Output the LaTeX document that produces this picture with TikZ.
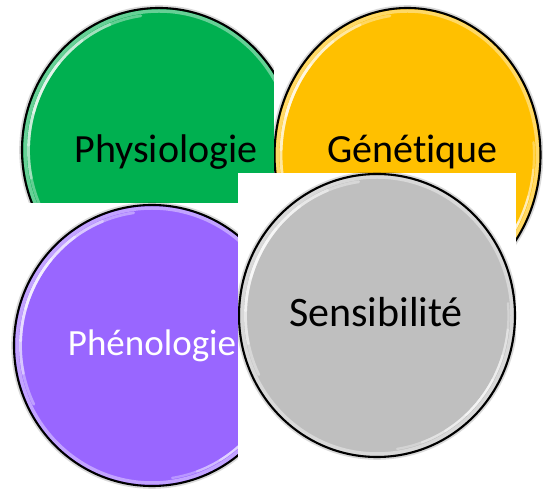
\documentclass[tikz,border=0pt]{standalone}
\usepackage{fontspec}
\setmainfont{Carlito}[Ligatures=NoCommon]
\usetikzlibrary{calc}
\definecolor{ballgreen}{HTML}{00B050}
\definecolor{ballyellow}{HTML}{FFC000}
\definecolor{ballpurple}{HTML}{9966FF}
\definecolor{ballgray}{HTML}{BFBFBF}
\tikzset{
  balltext/.style={font=\fontsize{40}{40}\selectfont, anchor=base, inner sep=0pt},
  rimline/.style={black, line width=2.1pt},
  glint/.style={white, line cap=round},
}
% #1 cx, #2 cy, #3 rx, #4 ry, #5 colour
\newcommand\glossball[5]{%
  \fill[black, opacity=0.15] (#1,#2) ellipse[x radius=#3+2.8, y radius=#4+2.8];
  \fill[#5] (#1,#2) ellipse[x radius=#3, y radius=#4];
  \draw[#5!60!white, line width=3.5pt] (#1,#2) ellipse[x radius=#3-3, y radius=#4-3];
  \foreach \h/\o in {54/0.38,40/0.4,26/0.42,12/0.45} {
    \draw[glint, opacity=\o, line width=2.8pt]
      ($(#1,#2)+(152-\h:#3-6.5 and #4-6.5)$) arc[start angle=152-\h, end angle=152+\h, x radius=#3-6.5, y radius=#4-6.5];
    \draw[glint, opacity=\o*0.85, line width=2.3pt]
      ($(#1,#2)+(-38-\h*0.8:#3-6.5 and #4-6.5)$) arc[start angle=-38-\h*0.8, end angle=-38+\h*0.8, x radius=#3-6.5, y radius=#4-6.5];
  }
  \draw[rimline] (#1,#2) ellipse[x radius=#3, y radius=#4];
}
\begin{document}
\begin{tikzpicture}[x=1pt,y=1pt]
  \useasboundingbox (0,0) rectangle (543,489);
  \fill[white] (0,0) rectangle (543,489);
  % green
  \begin{scope}
    \clip (0,286) rectangle (274,489);
    \glossball{159}{339}{137}{142}{ballgreen}
    \node[balltext] (phys) at (166,326) {Physiologie};
  \end{scope}
  % yellow
  \begin{scope}
    \clip (274,0) rectangle (543,489);
    \fill[white] (274,0) rectangle (543,489);
    \glossball{407.5}{334}{133}{147}{ballyellow}
    \node[balltext] (gene) at (412.5,326) {Génétique};
  \end{scope}
  % purple
  \begin{scope}
    \clip (0,0) rectangle (238,286);
    \fill[white] (0,0) rectangle (238,286);
    \glossball{152}{143.5}{138}{140.5}{ballpurple}
    \node[balltext, text=white, font=\fontsize{37}{37}\selectfont] (pheno) at (152,133) {Phénologie};
  \end{scope}
  % gray
  \begin{scope}
    \clip (238,0) rectangle (516,316);
    \fill[white] (238,0) rectangle (516,316);
    \glossball{377}{173.5}{138}{141.5}{ballgray}
    \node[balltext, font=\fontsize{42}{42}\selectfont] (sens) at (376,162) {Sensibilité};
  \end{scope}
\end{tikzpicture}
\end{document}
